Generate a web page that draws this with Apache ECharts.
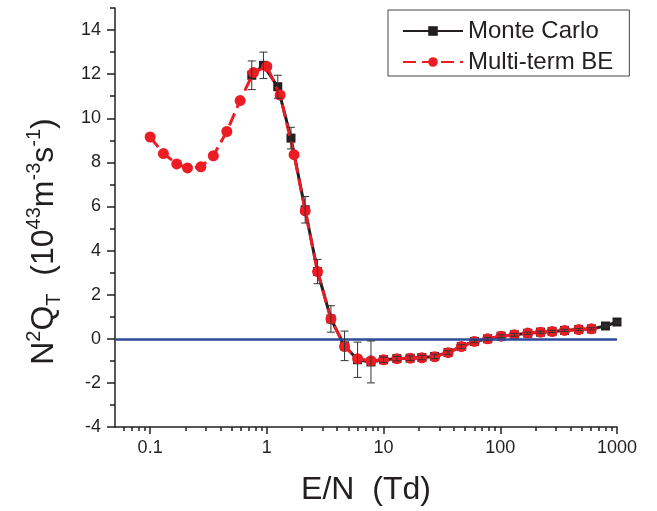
<!DOCTYPE html>
<html><head><meta charset="utf-8">
<script src="https://cdn.jsdelivr.net/npm/echarts@6/dist/echarts.min.js"></script>
<style>html,body{margin:0;padding:0;background:#fff}#c{width:657px;height:511px}</style>
</head><body><div id="c"></div>
<script>
// Multi-term BE (red circles)
const beE = [0.1, 0.13, 0.169, 0.209, 0.272, 0.348, 0.454, 0.59, 0.767, 1.0, 1.3, 1.71, 2.13, 2.72, 3.54, 4.63, 5.99, 7.8, 10, 13, 16.9, 21.3, 27.4, 35.7, 46.4, 60, 78, 101.6, 132, 172, 221, 278, 355, 470, 604];
const beQ = [9.15, 8.4, 7.93, 7.75, 7.8, 8.3, 9.4, 10.8, 12.07, 12.35, 11.05, 8.35, 5.8, 3.05, 0.9, -0.35, -0.9, -1.0, -0.95, -0.9, -0.88, -0.86, -0.82, -0.63, -0.35, -0.12, 0.0, 0.12, 0.18, 0.26, 0.3, 0.33, 0.38, 0.42, 0.45];
// Monte Carlo (black squares) with error bars
const mcE = [0.743, 0.935, 1.24, 1.61, 2.13, 2.72, 3.54, 4.63, 5.99, 7.8, 10, 13, 16.9, 21.3, 27.4, 35.7, 46.4, 60, 78, 101.6, 132, 172, 221, 278, 355, 470, 604, 797, 1000];
const mcQ = [11.95, 12.4, 11.43, 9.1, 5.85, 3.05, 0.9, -0.32, -0.95, -1.05, -0.95, -0.9, -0.88, -0.85, -0.8, -0.62, -0.35, -0.12, 0.0, 0.12, 0.18, 0.25, 0.3, 0.33, 0.38, 0.42, 0.45, 0.58, 0.76];
const mcErr = [0.65, 0.6, 0.52, 0.49, 0.6, 0.55, 0.6, 0.67, 0.8, 0.95, 0.12, 0.1, 0.1, 0.1, 0.1, 0.08, 0.08, 0.06, 0.06, 0.06, 0.06, 0.05, 0.05, 0.05, 0.05, 0.05, 0.05, 0.05, 0.05];
// Axis ticks
const xTickValues = [0.1, 1, 10, 100, 1000];
const xTickLabels = ['0.1', '1', '10', '100', '1000'];
const yTickValues = [-4, -2, 0, 2, 4, 6, 8, 10, 12, 14];
const yMinorValues = [-3, -1, 1, 3, 5, 7, 9, 11, 13, 15];
const seriesNames = ['Monte Carlo', 'Multi-term BE'];

const xMinor = [];
for (let d = -2; d <= 2; d++) for (let k = 2; k <= 9; k++) {
  const v = +(k * Math.pow(10, d)).toPrecision(3);
  if (v > 0.05 && v < 1000) xMinor.push(v);
}

const FONT = 'Liberation Sans, Arial, Helvetica, sans-serif';
const INK = '#231f20';
const chart = echarts.init(document.getElementById('c'), null, {renderer: 'canvas'});

const xLabel = v => {
  let best = 0;
  for (let i = 1; i < xTickValues.length; i++) if (Math.abs(Math.log10(v) - Math.log10(xTickValues[i])) < Math.abs(Math.log10(v) - Math.log10(xTickValues[best]))) best = i;
  return xTickLabels[best];
};

chart.setOption({
  animation: false,
  backgroundColor: '#fff',
  textStyle: {fontFamily: FONT},
  grid: {left: 115, right: 40, top: 8, bottom: 82, containLabel: false},
  legend: {
    data: seriesNames,
    orient: 'vertical',
    left: 388, top: 10,
    backgroundColor: '#fff',
    borderColor: '#444', borderWidth: 1, borderRadius: 0,
    padding: [9, 16, 2, 14],
    itemGap: 7, itemWidth: 60, itemHeight: 12,
    textStyle: {fontSize: 24, color: INK, fontFamily: FONT},
    selectedMode: false
  },
  xAxis: [
    {
      type: 'log', logBase: 10, min: 0.05, max: 1000, position: 'bottom',
      axisLine: {onZero: false, lineStyle: {color: INK, width: 1.5}},
      axisTick: {customValues: xTickValues, length: 7, lineStyle: {color: INK, width: 1.5}},
      axisLabel: {customValues: xTickValues, formatter: xLabel, fontSize: 18, color: INK, margin: 12, fontFamily: FONT},
      splitLine: {show: false},
      name: 'E/N  (Td)', nameLocation: 'middle', nameGap: 47,
      nameTextStyle: {fontSize: 32, color: INK, fontFamily: FONT}
    },
    {
      type: 'log', logBase: 10, min: 0.05, max: 1000, position: 'bottom',
      axisLine: {show: false, onZero: false},
      axisTick: {customValues: xMinor, length: 4, lineStyle: {color: INK, width: 1.5}},
      axisLabel: {show: false},
      splitLine: {show: false}
    }
  ],
  yAxis: [
    {
      type: 'value', min: -4, max: 15, interval: 1,
      axisLine: {show: true, onZero: false, lineStyle: {color: INK, width: 1.5}},
      axisTick: {customValues: yTickValues, length: 8, lineStyle: {color: INK, width: 1.5}},
      axisLabel: {customValues: yTickValues, fontSize: 18, color: INK, margin: 14, fontFamily: FONT},
      splitLine: {show: false},
      name: '{a|N}{s|2}{a|Q}{d|T}{a|  (10}{s|43}{a|m}{s|-3}{a|s}{s|-1}{a|)}',
      nameLocation: 'middle', nameGap: 51,
      nameTextStyle: {
        padding: [0, 48, 0, 0],
        rich: {
          a: {fontSize: 32, color: INK, fontFamily: FONT, lineHeight: 40, verticalAlign: 'middle'},
          s: {fontSize: 20, color: INK, fontFamily: FONT, lineHeight: 20, verticalAlign: 'top'},
          d: {fontSize: 20, color: INK, fontFamily: FONT, lineHeight: 20, verticalAlign: 'bottom'}
        }
      }
    },
    {
      type: 'value', min: -4, max: 15, interval: 1, position: 'left',
      axisLine: {show: false, onZero: false},
      axisTick: {customValues: yMinorValues, length: 5, lineStyle: {color: INK, width: 1.5}},
      axisLabel: {show: false},
      splitLine: {show: false}
    }
  ],
  series: [
    {
      name: 'Monte Carlo', type: 'line', xAxisIndex: 0, yAxisIndex: 0,
      data: mcE.map((e, i) => [e, mcQ[i]]),
      symbol: 'rect', symbolSize: 9,
      itemStyle: {color: INK},
      lineStyle: {color: INK, width: 3, type: 'solid'},
      z: 2,
      markLine: {
        silent: true, symbol: ['none', 'none'], label: {show: false},
        lineStyle: {color: '#2e4b9b', width: 2.5, type: 'solid'},
        data: [{yAxis: 0}]
      }
    },
    {
      name: 'Multi-term BE', type: 'line', xAxisIndex: 0, yAxisIndex: 0,
      data: beE.map((e, i) => [e, beQ[i]]),
      symbol: 'circle', symbolSize: 11,
      itemStyle: {color: '#ec1c24'},
      lineStyle: {color: '#ec1c24', width: 3, type: [13, 6]},
      z: 3
    },
    {
      name: 'err', type: 'custom', xAxisIndex: 0, yAxisIndex: 0,
      data: mcE.map((e, i) => [e, mcQ[i] - mcErr[i], mcQ[i] + mcErr[i]]),
      encode: {x: 0, y: [1, 2]},
      silent: true, z: 5,
      renderItem: (params, api) => {
        const lo = api.coord([api.value(0), api.value(1)]);
        const hi = api.coord([api.value(0), api.value(2)]);
        const w = 4;
        const st = {stroke: '#333', lineWidth: 1};
        return {type: 'group', children: [
          {type: 'line', shape: {x1: lo[0], y1: lo[1], x2: hi[0], y2: hi[1]}, style: st},
          {type: 'line', shape: {x1: lo[0] - w, y1: lo[1], x2: lo[0] + w, y2: lo[1]}, style: st},
          {type: 'line', shape: {x1: hi[0] - w, y1: hi[1], x2: hi[0] + w, y2: hi[1]}, style: st}
        ]};
      }
    }
  ]
});
</script>
</body></html>
